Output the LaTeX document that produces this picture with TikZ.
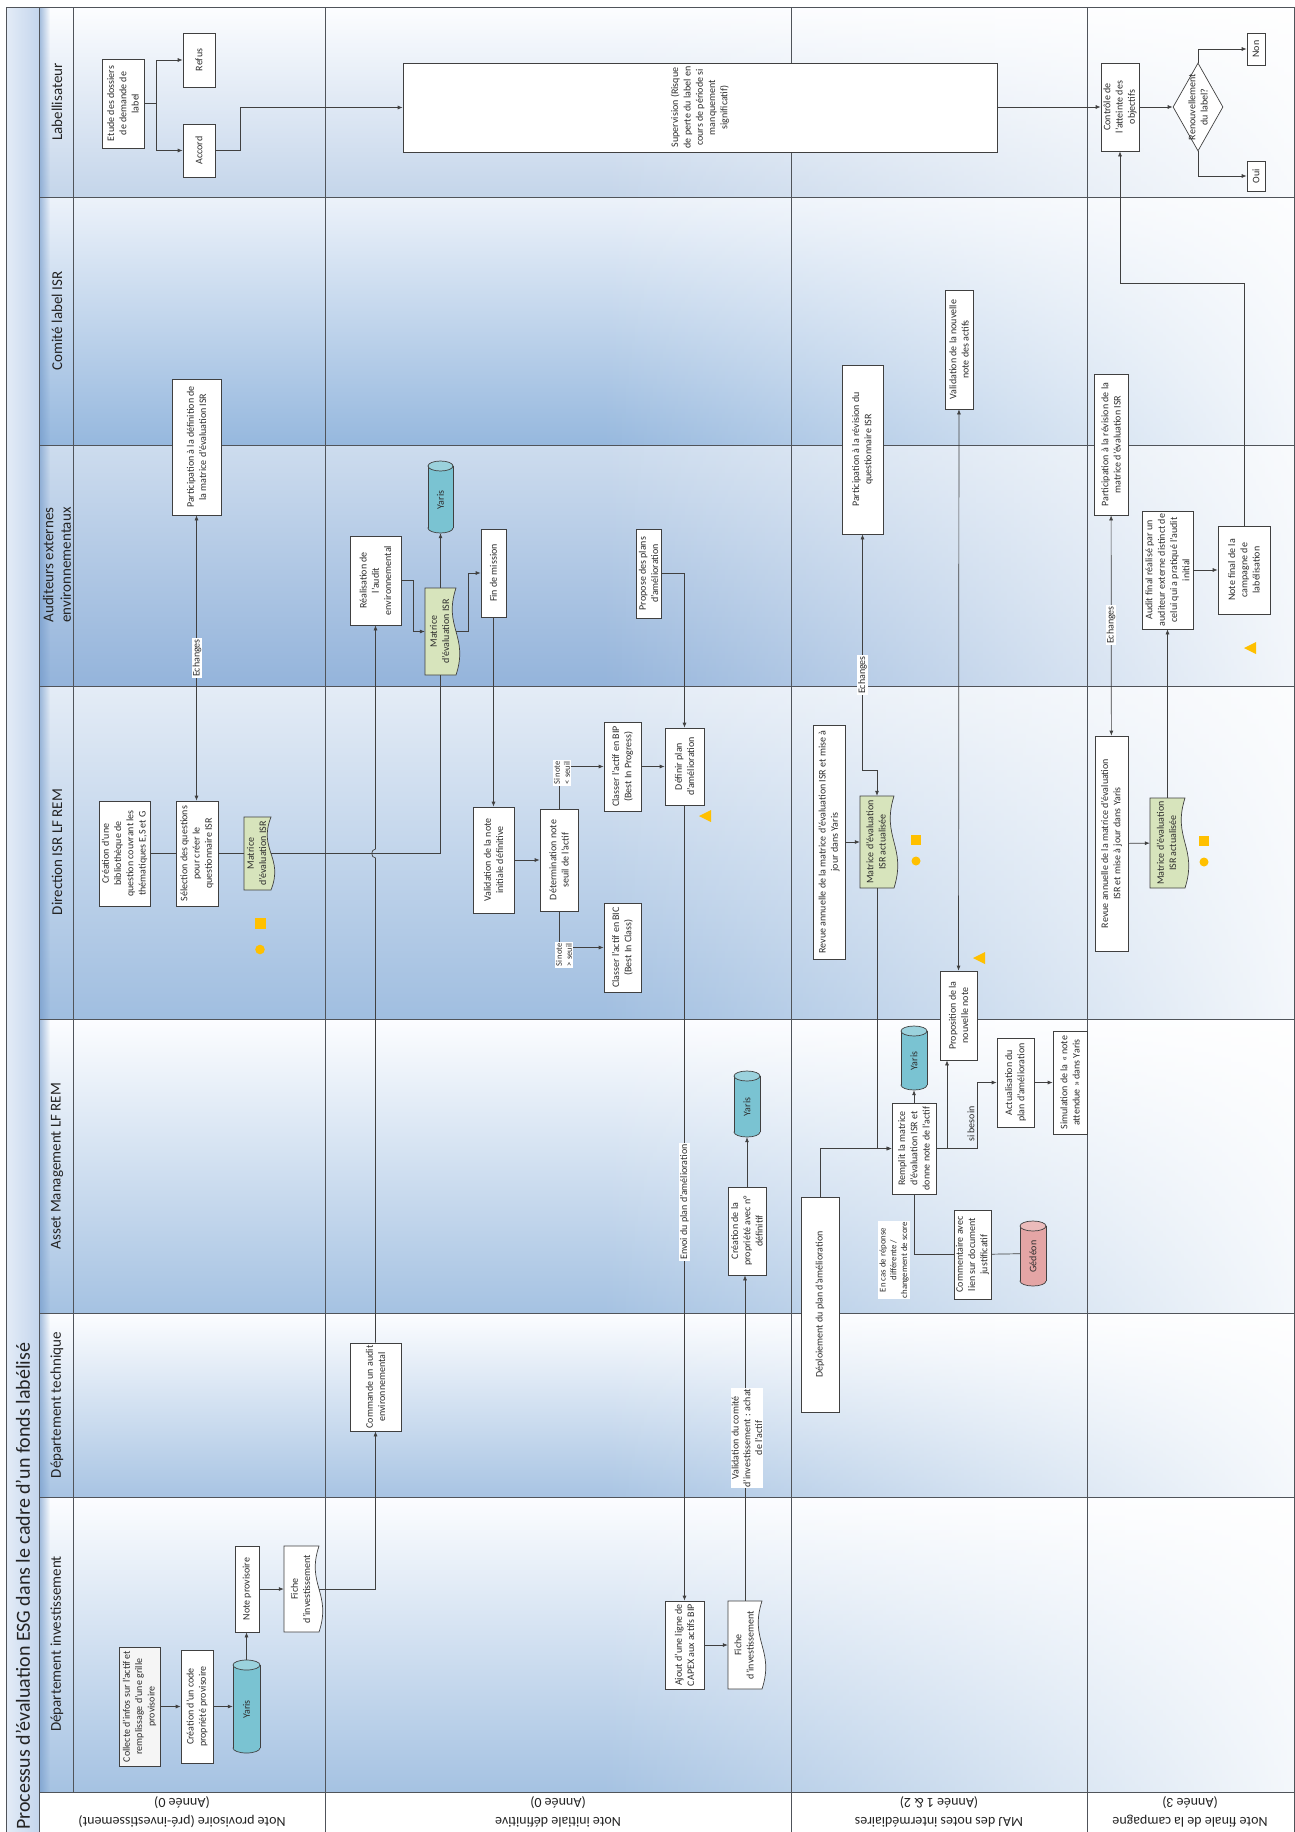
\documentclass[tikz,border=0pt]{standalone}
\usepackage{fontspec}
\setmainfont{Carlito}
\usetikzlibrary{arrows.meta,shapes.geometric,fit,fadings,calc}
\definecolor{lineC}{RGB}{64,64,64}
\definecolor{gridC}{RGB}{80,84,90}
\definecolor{txtC}{RGB}{45,45,45}
\definecolor{hdrC}{RGB}{35,35,35}
\definecolor{greenC}{RGB}{215,228,188}
\definecolor{cyanC}{RGB}{122,195,210}
\definecolor{pinkC}{RGB}{228,165,165}
\definecolor{yelC}{RGB}{255,192,0}
\definecolor{titleL}{RGB}{228,236,247}
\definecolor{titleR}{RGB}{196,214,237}
\definecolor{stripC}{RGB}{110,150,200}
\definecolor{Wt}{RGB}{252,253,255}
\definecolor{LabB}{RGB}{196,213,234}
\definecolor{ComT}{RGB}{236,242,250}
\definecolor{ComB}{RGB}{150,184,222}
\definecolor{AudT}{RGB}{205,220,238}
\definecolor{AudB}{RGB}{148,180,219}
\definecolor{DirT}{RGB}{228,236,246}
\definecolor{DirB}{RGB}{160,190,224}
\definecolor{AMB}{RGB}{165,194,226}
\definecolor{DTB}{RGB}{168,196,227}
\definecolor{DIB}{RGB}{165,194,226}
\tikzfading[name=fadeR, left color=transparent!100, right color=transparent!12]
\tikzfading[name=fadeL, left color=transparent!35, right color=transparent!100]

% box: [style]{name}{x1}{y1}{x2}{y2}{text}
\newcommand\BOX[7][box]{%
  \coordinate (#2-p) at (#3,#4);
  \coordinate (#2-q) at (#5,#6);
  \node[#1, fit=(#2-p)(#2-q)] (#2) {};
  \node[txt] (#2-t) at (#2.center) {#7};}
% document with wavy right edge: [fill]{name}{x1}{y1}{x2}{y2}{text}
\newcommand\DOC[7][white]{%
  \coordinate (#2-p) at (#3,#4);
  \coordinate (#2-q) at (#5,#6);
  \node[ghost, fit=(#2-p)(#2-q)] (#2) {};
  \filldraw[draw=lineC, line width=0.7pt, fill=#1] (#3,#4) -- (#5,#4)
    .. controls ({#5-13},{#4+0.45*(#6-#4)}) and ({#5+13},{#4+0.55*(#6-#4)}) .. (#5,#6)
    -- (#3,#6) -- cycle;
  \node[txt] (#2-t) at ($(#2.center)+(-1,0)$) {#7};}
% cylinder: [fill]{name}{x1}{y1}{x2}{y2}{text}
\newcommand\CYL[7][cyanC]{%
  \coordinate (#2-p) at (#3,#4);
  \coordinate (#2-q) at (#5,#6);
  \node[ghost, fit=(#2-p)(#2-q)] (#2) {};
  \pgfmathsetmacro\cylcx{(#3+#5)/2}\pgfmathsetmacro\cylrx{(#5-#3)/2}
  \filldraw[draw=lineC, line width=0.7pt, fill=#1] (\cylcx,{#6-5}) ellipse [x radius=\cylrx, y radius=5];
  \fill[#1] (#3,{#4+5}) rectangle (#5,{#6-5});
  \draw[lineC, line width=0.7pt] (#3,{#4+5}) -- (#3,{#6-5}) (#5,{#4+5}) -- (#5,{#6-5});
  \filldraw[draw=lineC, line width=0.7pt, fill=#1!75!white] (\cylcx,{#4+5}) ellipse [x radius=\cylrx, y radius=5];
  \node[txt] (#2-t) at ($(#2.center)+(0,3)$) {#7};}

\begin{document}
\begin{tikzpicture}[x=1pt,y=-1pt,
  box/.style={draw=lineC, line width=0.7pt, fill=white, inner sep=0pt},
  ghost/.style={inner sep=0pt},
  txt/.style={rotate=90, align=center, inner sep=0pt, text=txtC, font=\fontsize{10}{12.3}\selectfont},
  lbl/.style={rotate=90, align=center, inner sep=1pt, fill=white, text=txtC, font=\fontsize{10}{11.8}\selectfont},
  hdr/.style={rotate=90, align=center, inner sep=0pt, text=hdrC, font=\fontsize{15}{17.5}\selectfont},
  phase/.style={rotate=180, align=center, inner sep=0pt, text=hdrC, font=\fontsize{14}{19}\selectfont},
  conn/.style={draw=lineC, line width=0.7pt},
  arr/.style={conn, -{Latex[length=5pt,width=4pt]}},
  arr2/.style={conn, {Latex[length=5pt,width=4pt]}-{Latex[length=5pt,width=4pt]}},
  gridl/.style={draw=gridC, line width=1pt}]
\useasboundingbox (0,0) rectangle (1295,1832);
\fill[white] (0,0) rectangle (1295,1832);

% ---------- backgrounds ----------
\shade[left color=titleL, right color=titleR] (6,7) rectangle (39,1832);
\shade[top color=Wt, bottom color=LabB] (39,7) rectangle (1294,197);
\shade[top color=ComT, bottom color=ComB] (39,197) rectangle (1294,445);
\shade[top color=AudT, bottom color=AudB] (39,445) rectangle (1294,686);
\shade[top color=DirT, bottom color=DirB] (39,686) rectangle (1294,1019);
\shade[top color=Wt, bottom color=AMB] (39,1019) rectangle (1294,1313);
\shade[top color=Wt, bottom color=DTB] (39,1313) rectangle (1294,1497);
\shade[top color=Wt, bottom color=DIB] (39,1497) rectangle (1294,1792);
\fill[white, path fading=fadeR] (600,7) rectangle (1294,1792);
\fill[stripC, path fading=fadeL] (39,7) rectangle (50,1792);

% ---------- grid ----------
\draw[gridl] (6,1832) -- (6,7) -- (1294,7) -- (1294,1832);
\draw[gridl] (39,7) -- (39,1832);
\draw[gridl] (73,7) -- (73,1792);
\foreach \xx in {325,791,1087} {\draw[gridl] (\xx,7) -- (\xx,1832);}
\foreach \yy in {197,445,686,1019,1313,1497,1792} {\draw[gridl] (39,\yy) -- (1294,\yy);}

% ---------- title, headers, phases ----------
\node[rotate=90, anchor=west, inner sep=0pt, text=hdrC, font=\fontsize{20}{23}\selectfont] (title) at (23,1830) {Processus d’évaluation ESG dans le cadre d’un fonds labélisé};
\node[hdr] (hLab) at (57,102) {Labellisateur};
\node[hdr] (hCom) at (57,321) {Comité label ISR};
\node[hdr] (hAud) at (57,565) {Auditeurs externes\\environnementaux};
\node[hdr] (hDir) at (57,852) {Direction ISR LF REM};
\node[hdr] (hAM) at (57,1166) {Asset Management LF REM};
\node[hdr] (hDT) at (57,1405) {Département technique};
\node[hdr] (hDI) at (57,1644) {Département investissement};
\node[phase] (p1) at (182,1812) {Note provisoire (pré-investissement)\\(Année 0)};
\node[phase] (p2) at (558,1812) {Note initiale définitive\\(Année 0)};
\node[phase] (p3) at (939,1812) {MAJ des notes intermédiaires\\(Année 1 \& 2)};
\node[phase] (p4) at (1190,1812) {Note finale de la campagne\\(Année 3)};

% ---------- Labellisateur ----------
\BOX{etude}{102}{59}{144}{148}{Etude des dossiers\\de demande de\\label}
\BOX{refus}{183}{33}{215}{87}{Refus}
\BOX{accord}{183}{124}{215}{177}{Accord}
\BOX{sup}{403}{63}{997}{152}{Supervision (Risque\\de perte du label en\\cours de période si\\manquement\\significatif)}
\BOX{ctrl}{1101}{63}{1139}{151}{Contrôle de\\l’atteinte des\\objectifs}
\node[diamond, draw=lineC, line width=0.7pt, fill=white, inner sep=0pt, minimum width=50pt, minimum height=88pt] (dia) at (1198,107) {};
\node[txt] (dia-t) at (dia.center) {Renouvellement\\du label?};
\BOX{non}{1247}{33}{1265}{65}{Non}
\BOX{oui}{1247}{161}{1265}{191}{Oui}

% ---------- Comité label ISR ----------
\BOX{partdef}{172}{379}{221}{515}{Participation à la définition de\\la matrice d’évaluation ISR}
\BOX{partq}{842}{365}{883}{534}{Participation à la révision du\\questionnaire ISR}
\BOX{valnn}{945}{290}{973}{409}{Validation de la nouvelle\\note des actifs}
\BOX{partm}{1094}{374}{1128}{515}{Participation à la révision de la\\matrice d’évaluation ISR}

% ---------- Auditeurs ----------
\CYL{yaris2}{428}{461}{453}{533}{Yaris}
\BOX{real}{350}{536}{401}{625}{Réalisation de\\l’audit\\environnemental}
\DOC[greenC]{mat2}{425}{588}{456}{675}{Matrice\\d’évaluation ISR}
\BOX{fin}{481}{529}{506}{617}{Fin de mission}
\BOX{prop}{636}{529}{661}{618}{Propose des plans\\d’amélioration}
\BOX{audit}{1142}{511}{1193}{629}{Audit final réalisé par un\\auditeur externe distinct de\\celui qui a pratiqué l’audit\\initial}
\BOX{nf}{1218}{526}{1270}{614}{Note final de la\\campagne de\\labélisation}

% ---------- Direction ISR ----------
\BOX{crea}{99}{801}{150}{906}{Création d’une\\bibliothèque de\\question couvrant les\\thématiques E,S et G}
\BOX{sel}{176}{801}{218}{906}{Sélection des questions\\pour créer le\\questionnaire ISR}
\DOC[greenC]{mat1}{244}{817}{271}{890}{Matrice\\d’évaluation ISR}
\BOX{val}{473}{807}{514}{913}{Validation de la note\\initiale définitive}
\BOX{det}{540}{809}{578}{911}{Détermination note\\seuil de l’actif}
\BOX{bip}{604}{722}{641}{811}{Classer l’actif en BIP\\(Best In Progress)}
\BOX{bic}{604}{903}{641}{992}{Classer l’actif en BIC\\(Best In Class)}
\BOX{def}{665}{728}{704}{805}{Définir plan\\d’amélioration}
\BOX{revue1}{813}{725}{845}{959}{Revue annuelle de la matrice d’évaluation ISR et mise à\\jour dans Yaris}
\DOC[greenC]{mat3}{860}{796}{894}{888}{Matrice d’évaluation\\ISR actualisée}
\BOX{propo}{940}{971}{977}{1060}{Proposition de la\\nouvelle note}
\BOX{revue2}{1095}{736}{1128}{951}{Revue annuelle de la matrice d’évaluation\\ISR et mise à jour dans Yaris}
\DOC[greenC]{mat4}{1150}{798}{1185}{888}{Matrice d’évaluation\\ISR actualisée}

% ---------- Asset Management ----------
\CYL{yaris4}{901}{1026}{927}{1090}{Yaris}
\BOX{remplit}{892}{1103}{936}{1194}{Remplit la matrice\\d’évaluation ISR et\\donne note de l’actif}
\BOX{actu}{997}{1038}{1034}{1127}{Actualisation du\\plan d’amélioration}
\BOX{simul}{1053}{1031}{1087}{1134}{Simulation de la « note\\attendue » dans Yaris}
\BOX{comm}{954}{1210}{991}{1299}{Commentaire avec\\lien sur document\\justificatif}
\CYL[pinkC]{ged}{1020}{1221}{1046}{1286}{Gédéon}
\CYL{yaris3}{734}{1071}{760}{1137}{Yaris}
\BOX{creaprop}{728}{1187}{766}{1275}{Création de la\\propriété avec n°\\définitif}
\BOX{deploy}{801}{1197}{839}{1412}{Déploiement du plan d’amélioration}

% ---------- Département technique ----------
\BOX{cmd}{350}{1343}{401}{1431}{Commande un audit\\environnemental}

% ---------- Département investissement ----------
\BOX[box, fill=gray!8]{collecte}{119}{1647}{160}{1766}{Collecte d’infos sur l’actif et\\remplissage d’une grille\\provisoire}
\BOX{creacode}{181}{1650}{213}{1763}{Création d’un code\\propriété provisoire}
\CYL{yaris1}{233}{1660}{260}{1753}{Yaris}
\BOX{noteprov}{235}{1546}{259}{1632}{Note provisoire}
\DOC{fiche1}{284}{1546}{319}{1632}{Fiche\\d’investissement}
\BOX{ajout}{665}{1601}{704}{1689}{Ajout d’une ligne de\\CAPEX aux actifs BIP}
\DOC{fiche2}{728}{1601}{762}{1689}{Fiche\\d’investissement}

% ---------- connectors ----------
\draw[arr] (etude.east) -- ++(12,0) |- (refus.west);
\draw[arr] (etude.east) -- ++(12,0) |- (accord.west);
\draw[arr] (accord.east) -- ++(25,0) |- (sup.west);
\draw[arr] (sup.east |- ctrl.west) -- (ctrl.west);
\draw[arr] (ctrl) -- (dia);
\draw[arr] (dia.north) |- (non.west);
\draw[arr] (dia.south) |- (oui.west);
\draw[arr] (nf.north) -- ++(0,-242) -| (ctrl.south);
\draw[arr2] (partdef.south) -- (partdef.south |- sel.north);
\draw[conn] (crea) -- (sel);
\draw[conn] (sel) -- (mat1);
\draw[conn] (mat1.east) -| (mat2.south);
\draw[arr] (mat2.north) -- (mat2.north |- yaris2.south);
\draw[arr] (real.east) -- ++(12,0) |- (mat2.west);
\draw[arr] (mat2.east) -- ++(12,0) |- (fin.west);
\draw[arr] (fin) -- (val);
\draw[arr] (val) -- (det);
\draw[arr] (det.north) |- (bip.west);
\draw[arr] (det.south) |- (bic.west);
\draw[arr] (bip) -- (def);
\draw[arr] (prop.east) -| (def.north);
\draw[arr] (def.south) -- (ajout.north);
\draw[arr] (ajout) -- (fiche2);
\draw[arr] (fiche2.north) -- (fiche2.north |- creaprop.south);
\draw[arr] (creaprop) -- (yaris3);
\draw[arr] (collecte) -- (creacode);
\draw[arr] (creacode) -- (yaris1);
\draw[arr] (yaris1.north) -- (yaris1.north |- noteprov.south);
\draw[arr] (noteprov) -- (fiche1);
\draw[arr] (fiche1.east) -| (cmd.south);
\draw[arr] (cmd.north) -- (375.5,858) .. controls (370.5,857.5) and (370.5,849.5) .. (375.5,849) -- (real.south);
\draw[arr] (revue1) -- (mat3);
\draw[arr2] (partq.south) -- ++(0,236) -| (mat3.north);
\draw[arr] (mat3.south) |- (remplit.west);
\draw[arr] (deploy.north) |- (remplit.west);
\draw[arr] (remplit) -- (yaris4);
\draw[arr] (remplit.east) -| ([xshift=-11.5pt]propo.south);
\draw[arr] (remplit.east) -- ++(41,0) |- (actu.west);
\draw[arr] (actu) -- (simul);
\draw[conn] (remplit.south) |- (comm.west);
\draw[conn] (comm) -- (ged);
\draw[arr2] (valnn) -- (propo);
\draw[arr] (revue2) -- (mat4);
\draw[arr2] (partm) -- (revue2);
\draw[arr] (mat4) -- (audit);
\draw[arr] (audit) -- (nf);

% ---------- labels ----------
\node[lbl] (e1) at (197,658) {Echanges};
\node[lbl] (e2) at (862.5,675) {Echanges};
\node[lbl] (e3) at (1111,625) {Echanges};
\node[lbl] (lEnv) at (684.5,1202) {Envoi du plan d’amélioration};
\node[lbl] (lVal) at (747,1438) {Validation du comité\\d’investissement : achat\\de l’actif};
\node[lbl, font=\fontsize{8.5}{10}\selectfont] (lBIP) at (562,773) {Si note\\< seuil};
\node[lbl, font=\fontsize{8.5}{10}\selectfont] (lBIC) at (564,955) {Si note\\> seuil};
\node[lbl, font=\fontsize{8.8}{10.8}\selectfont] (lCas) at (894,1260) {En cas de réponse\\différente /\\changement de score};
\node[lbl, fill=none] (lBes) at (971,1124) {si besoin};

% ---------- markers ----------
\fill[yelC] (254.5,917.5) rectangle (265.5,928.5);
\fill[yelC] (260,949.5) circle (4.8);
\fill[yelC] (911,835) rectangle (921,845);
\fill[yelC] (916,861) circle (4.5);
\fill[yelC] (1199,836) rectangle (1209,846);
\fill[yelC] (1204,862) circle (4.5);
\fill[yelC] (699,816) -- (711,810) -- (711,822) -- cycle;
\fill[yelC] (973,958) -- (985,952) -- (985,964) -- cycle;
\fill[yelC] (1244,648) -- (1256,642) -- (1256,654) -- cycle;
\end{tikzpicture}
\end{document}
